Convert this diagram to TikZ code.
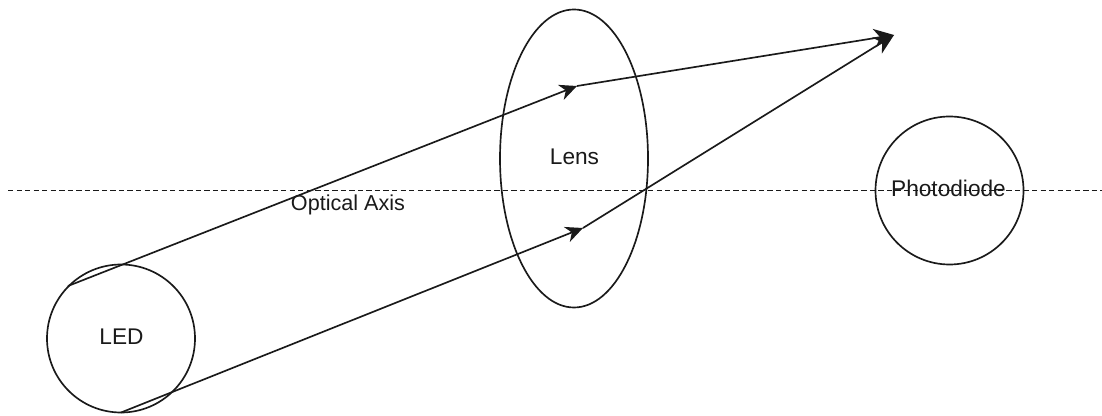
\documentclass[tikz,border=0pt]{standalone}
\usepackage{fontspec}
\setmainfont{Liberation Sans}
\usetikzlibrary{arrows.meta}
\definecolor{ink}{HTML}{1A1A1A}
\tikzset{
  x=0.75pt,y=-0.75pt,
  shapeline/.style={draw=ink,line width=1.25pt,fill=none},
  ray/.style={draw=ink,line width=1.25pt,-{Stealth[length=15pt,width=14pt,inset=4.5pt]}},
  raysmall/.style={draw=ink,line width=1.25pt,-{Stealth[length=13pt,width=12pt,inset=4pt]}},
  label/.style={font=\fontsize{17pt}{20pt}\selectfont,text=ink,inner sep=0pt},
  axisline/.style={draw=ink,line width=1.15pt,dash pattern=on 4pt off 2.4pt},
}
\begin{document}
\begin{tikzpicture}
\useasboundingbox (0,0) rectangle (1102,416);
\coordinate (axisL) at (8,190.5);
\coordinate (axisR) at (1102,190.5);
\coordinate (a1) at (68,286);
\coordinate (a2) at (577,86);
\coordinate (b1) at (121,412.5);
\coordinate (b2) at (583,228);
\coordinate (f) at (894,35);
\draw[axisline] (axisL) -- (axisR);
\draw[shapeline] (121,338.5) circle (74);
\draw[shapeline] (574,158.5) ellipse (74 and 149);
\draw[shapeline] (949.5,190.5) circle (74);
\node[label] (led) at (121.5,337) {LED};
\node[label] (lens) at (574.5,156.5) {Lens};
\node[label] (pd) at (948.5,188.5) {Photodiode};
\node[label,font=\fontsize{16.2pt}{20pt}\selectfont] (oa) at (348,204.5) {Optical Axis};
\draw[raysmall] (a1) -- (a2);
\draw[raysmall] (b1) -- (b2);
\draw[ray] (a2) -- (f);
\draw[ray] (b2) -- (f);
\end{tikzpicture}
\end{document}
